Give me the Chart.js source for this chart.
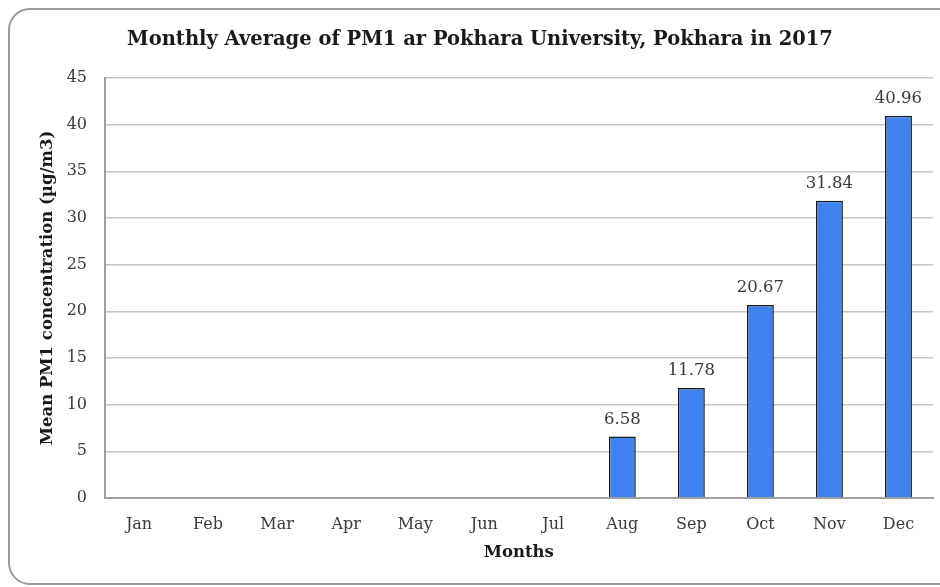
<!DOCTYPE html>
<html>
<head>
<meta charset="utf-8">
<script src="https://cdn.jsdelivr.net/npm/chart.js@4"></script>
<style>
  html, body { margin: 0; padding: 0; background: #fff; overflow: hidden; }
  #wrap { position: relative; width: 940px; height: 587px; }
  #frame {
    position: absolute; left: 8px; top: 8px; width: 960px; height: 577px;
    border: 2px solid #9a9a9a; border-radius: 22px; box-sizing: border-box;
  }
  canvas { position: absolute; left: 0; top: 0; }
</style>
</head>
<body>
<div id="wrap">
  <div id="frame"></div>
  <canvas id="pm1-chart" width="940" height="587"></canvas>
</div>
<script>
// Monthly PM1 means (no data Jan-Jul)
const months = ['Jan', 'Feb', 'Mar', 'Apr', 'May', 'Jun', 'Jul', 'Aug', 'Sep', 'Oct', 'Nov', 'Dec'];
const pm1Values = [null, null, null, null, null, null, null, 6.58, 11.78, 20.67, 31.84, 40.96];
const yTicks = [0, 5, 10, 15, 20, 25, 30, 35, 40, 45];

const SERIF = '"DejaVu Serif", "Liberation Serif", serif';

// Draw the value above each bar
const barValueLabels = {
    id: 'barValueLabels',
    afterDatasetsDraw(chart) {
        const ctx = chart.ctx;
        const meta = chart.getDatasetMeta(0);
        ctx.save();
        ctx.font = '16.5px ' + SERIF;
        ctx.fillStyle = '#3a3a3a';
        ctx.textAlign = 'center';
        ctx.textBaseline = 'bottom';
        meta.data.forEach((bar, i) => {
            const v = pm1Values[i];
            if (v == null) return;
            ctx.fillText(v.toFixed(2), bar.x, bar.y - 9);
        });
        ctx.restore();
    }
};

new Chart(document.getElementById('pm1-chart'), {
    type: 'bar',
    data: {
        labels: months,
        datasets: [{
            label: 'PM1',
            data: pm1Values,
            backgroundColor: '#3f83f1',
            borderColor: '#1a1a1a',
            borderWidth: 1.5,
            borderSkipped: 'bottom',
            categoryPercentage: 1.0,
            barPercentage: 0.39
        }]
    },
    options: {
        responsive: false,
        animation: false,
        devicePixelRatio: 1,
        layout: { padding: { left: 27, right: 7, top: 0, bottom: 0 } },
        plugins: {
            legend: { display: false },
            tooltip: { enabled: false },
            title: {
                display: true,
                text: 'Monthly Average of PM1 ar Pokhara University, Pokhara in 2017',
                color: '#1a1a1a',
                font: { family: SERIF, size: 19.5, weight: 'bold' },
                padding: { top: 28, bottom: 26.6 }
            }
        },
        scales: {
            x: {
                afterFit(scale) { scale.height = 89; },
                grid: { display: false, drawTicks: false },
                border: { display: true, color: '#a0a0a0', width: 2 },
                ticks: { color: '#3a3a3a', font: { family: SERIF, size: 16 }, padding: 17 },
                title: {
                    display: true,
                    text: 'Months',
                    color: '#1a1a1a',
                    font: { family: SERIF, size: 16.5, weight: 'bold' },
                    padding: { top: 6, bottom: 24 }
                }
            },
            y: {
                min: 0,
                max: 45,
                afterBuildTicks(scale) {
                    scale.ticks = yTicks.map(v => ({ value: v }));
                },
                afterFit(scale) { scale.width = 77.5; },
                grid: { color: '#c6c6c6', lineWidth: 1.5, drawTicks: false },
                border: { display: true, color: '#a0a0a0', width: 2 },
                ticks: { color: '#3a3a3a', font: { family: SERIF, size: 16 }, padding: 17.5 },
                title: {
                    display: true,
                    text: 'Mean PM1 concentration (µg/m3)',
                    color: '#1a1a1a',
                    font: { family: SERIF, size: 16.5, weight: 'bold' },
                    padding: { top: 11, bottom: 10 }
                }
            }
        }
    },
    plugins: [barValueLabels]
});
</script>
</body>
</html>
